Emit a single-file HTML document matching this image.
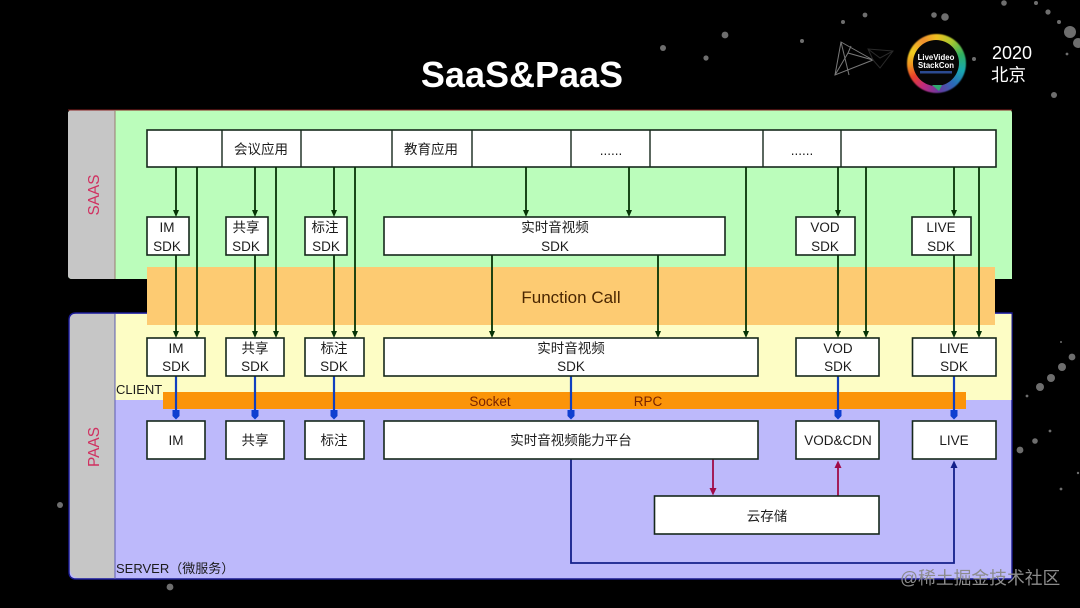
<!DOCTYPE html>
<html lang="zh">
<head>
<meta charset="utf-8">
<title>SaaS&amp;PaaS</title>
<style>
html,body{margin:0;padding:0;background:#000;width:1080px;height:608px;overflow:hidden}
#ring{position:absolute;left:906.500px;top:33.500px;width:59px;height:59px;border-radius:50%;filter:blur(.4px);
background:conic-gradient(from 0deg,#f0c020 0deg,#a8c830 35deg,#30b060 70deg,#18a8b0 105deg,#2a6ab8 140deg,#6a3aa0 175deg,#c02a80 210deg,#e8402a 240deg,#f09020 265deg,#f0d020 295deg,#f09030 330deg,#f0c020 360deg)}
#ringin{position:absolute;left:913px;top:40px;width:46px;height:46px;border-radius:50%;background:#060606}
svg{position:absolute;left:0;top:0;filter:blur(.35px)}
text{font-family:"Liberation Sans","Noto Sans CJK SC",sans-serif}
.l{font-size:13.5px;fill:#1c1c1c;text-anchor:middle}
.b{fill:#fff;stroke:#16281c;stroke-width:1.6}
.g{stroke:#063406;stroke-width:1.8;fill:none}
.gh{fill:#063406}
.u{stroke:#1040c0;stroke-width:2.2;fill:none}
.uh{fill:#0f3fd0}
.n{stroke:#14208a;stroke-width:1.8;fill:none}
.r{stroke:#a00a48;stroke-width:1.8;fill:none}
.s circle{fill:#6e6e6e}
</style>
</head>
<body>
<div id="ring"></div>
<div id="ringin"></div>
<svg width="1080" height="608" viewBox="0 0 1080 608">
<g class="s">
<circle cx="663" cy="48" r="3"/><circle cx="706" cy="58" r="2.600"/><circle cx="725" cy="35" r="3.400"/><circle cx="802" cy="41" r="2"/>
<circle cx="865" cy="15" r="2.400"/><circle cx="934" cy="15" r="2.800"/><circle cx="945" cy="17" r="3.800"/><circle cx="843" cy="22" r="2"/>
<circle cx="1004" cy="3" r="2.800"/><circle cx="1036" cy="3" r="2"/><circle cx="1048" cy="12" r="2.600"/><circle cx="1059" cy="22" r="2"/>
<circle cx="1070" cy="32" r="6"/><circle cx="1078" cy="43" r="5"/><circle cx="974" cy="59" r="2"/><circle cx="1054" cy="95" r="3"/><circle cx="1067" cy="54" r="1.400"/>
<circle cx="1072" cy="357" r="3.400"/><circle cx="1062" cy="367" r="4"/><circle cx="1051" cy="378" r="4"/><circle cx="1040" cy="387" r="4"/>
<circle cx="1027" cy="396" r="1.400"/><circle cx="1050" cy="431" r="1.400"/><circle cx="1035" cy="441" r="2.800"/><circle cx="1020" cy="450" r="3.400"/><circle cx="1061" cy="489" r="1.400"/>
<circle cx="60" cy="505" r="3"/><circle cx="170" cy="587" r="3.400"/><circle cx="1078" cy="473" r="1.200"/><circle cx="1061" cy="342" r="1"/>
</g>

<text x="522" y="87" font-size="36" font-weight="700" fill="#fff" text-anchor="middle">SaaS&amp;PaaS</text>

<g fill="none" stroke="#7a7a7a" stroke-width="1">
<polygon points="841,42 873,60 835,75"/><polyline points="841,42 849,75"/><polyline points="851,46 848,53 873,60"/><polyline points="848,53 835,75"/>
</g>
<g fill="none" stroke="#2a2a2a" stroke-width="1"><polygon points="868,49 893,51 880,68 873,60"/><polyline points="868,49 880,58 893,51"/></g>
<path d="M932 85 L942 85 L939 91 Z" fill="#30a870"/>
<text x="936" y="60" font-size="7.800" font-weight="700" fill="#fff" text-anchor="middle">LiveVideo</text>
<text x="936" y="68" font-size="7.800" font-weight="700" fill="#fff" text-anchor="middle">StackCon</text>
<rect x="920" y="71" width="32" height="2.500" fill="#2c4a90"/>
<text x="992" y="59" font-size="18" fill="#fff">2020</text>
<text x="991" y="81" font-size="17.500" fill="#fff">北京</text>

<!-- SaaS -->
<path d="M72 110 H1009 Q1012 110 1012 113 V279 H72 Q68 279 68 275 V114 Q68 110 72 110Z" fill="#bbfdbb"/>
<path d="M72 110 H115 V279 H72 Q68 279 68 275 V114 Q68 110 72 110Z" fill="#c6c6c6"/>
<path d="M68 110 H1012" stroke="#8a2020" stroke-width="1" fill="none"/>
<path d="M115 110 V279" stroke="#9a7a70" stroke-width="1"/>
<text transform="translate(99,195) rotate(-90)" font-size="15.400" fill="#d03060" text-anchor="middle">SAAS</text>

<!-- PaaS -->
<path d="M76 313 H1012 V579 H76 Q69 579 69 572 V320 Q69 313 76 313Z" fill="#bdb9fb" stroke="#1a1a90" stroke-width="1.400"/>
<path d="M115 314 H1011.500 V400 H115Z" fill="#fdfdc5"/>
<path d="M76 314 H115 V578 H80 Q70 578 70 568 V320 Q70 314 76 314Z" fill="#c6c6c6"/>
<path d="M115 314 V579" stroke="#5a5ab0" stroke-width="1"/>
<text transform="translate(99,447) rotate(-90)" font-size="15.400" fill="#d03060" text-anchor="middle">PAAS</text>

<rect x="147" y="267" width="848" height="58" fill="#fdcb72"/>
<rect x="163" y="392" width="803" height="17" fill="#fb9409"/>
<text x="571" y="303" font-size="17" fill="#4a2600" text-anchor="middle">Function Call</text>
<text x="490" y="406" font-size="13.500" fill="#7a2400" text-anchor="middle">Socket</text>
<text x="648" y="406" font-size="13.500" fill="#7a2400" text-anchor="middle">RPC</text>
<text x="116" y="394" font-size="13" fill="#1c1c1c">CLIENT</text>
<text x="116" y="573" font-size="13" fill="#1c1c1c">SERVER（微服务）</text>

<!-- top row -->
<rect class="b" x="147" y="130" width="849" height="37"/>
<path d="M222 130V167M301 130V167M392 130V167M472 130V167M571 130V167M650 130V167M763 130V167M841 130V167" stroke="#16281c" stroke-width="1.400"/>
<text class="l" x="261" y="154">会议应用</text>
<text class="l" x="431" y="154">教育应用</text>
<text class="l" x="611" y="155" font-size="12">......</text>
<text class="l" x="802" y="155" font-size="12">......</text>

<!-- green connectors -->
<path class="g" d="M176 167V212M255 167V212M334 167V212M526 167V212M629 167V212M838 167V212M954 167V212"/>
<path class="g" d="M197 167V333M276 167V333M355 167V333M746 167V333M866 167V333M979 167V333"/>
<path class="g" d="M176 255V333M255 255V333M334 255V333M492 255V333M658 255V333M838 255V333M954 255V333"/>
<g class="gh">
<path d="M173 210h6l-3 7zM252 210h6l-3 7zM331 210h6l-3 7zM523 210h6l-3 7zM626 210h6l-3 7zM835 210h6l-3 7zM951 210h6l-3 7z"/>
<path d="M173 331h6l-3 7zM194 331h6l-3 7zM252 331h6l-3 7zM273 331h6l-3 7zM331 331h6l-3 7zM352 331h6l-3 7zM489 331h6l-3 7zM655 331h6l-3 7zM743 331h6l-3 7zM835 331h6l-3 7zM863 331h6l-3 7zM951 331h6l-3 7zM976 331h6l-3 7z"/>
</g>

<!-- blue connectors -->
<path class="u" d="M176 376V414M255 376V414M334 376V414M571 376V414M838 376V414M954 376V414"/>
<path class="uh" d="M172.500 410h7v6l-3.500 3.500l-3.500-3.500zM251.500 410h7v6l-3.500 3.500l-3.500-3.500zM330.500 410h7v6l-3.500 3.500l-3.500-3.500zM567.500 410h7v6l-3.500 3.500l-3.500-3.500zM834.500 410h7v6l-3.500 3.500l-3.500-3.500zM950.500 410h7v6l-3.500 3.500l-3.500-3.500z"/>

<!-- row 1 -->
<rect class="b" x="147" y="217" width="42" height="38"/>
<rect class="b" x="226" y="217" width="42" height="38"/>
<rect class="b" x="305" y="217" width="42" height="38"/>
<rect class="b" x="384" y="217" width="341" height="38"/>
<rect class="b" x="796" y="217" width="59" height="38"/>
<rect class="b" x="912" y="217" width="59" height="38"/>
<text class="l" x="167" y="232">IM</text><text class="l" x="167" y="251">SDK</text>
<text class="l" x="246" y="232">共享</text><text class="l" x="246" y="251">SDK</text>
<text class="l" x="325" y="232">标注</text><text class="l" x="326" y="251">SDK</text>
<text class="l" x="555" y="232">实时音视频</text><text class="l" x="555" y="251">SDK</text>
<text class="l" x="825" y="232">VOD</text><text class="l" x="825" y="251">SDK</text>
<text class="l" x="941" y="232">LIVE</text><text class="l" x="941" y="251">SDK</text>

<!-- row 2 -->
<rect class="b" x="147" y="338" width="58" height="38"/>
<rect class="b" x="226" y="338" width="58" height="38"/>
<rect class="b" x="305" y="338" width="59" height="38"/>
<rect class="b" x="384" y="338" width="374" height="38"/>
<rect class="b" x="796" y="338" width="83" height="38"/>
<rect class="b" x="912.500" y="338" width="83.500" height="38"/>
<text class="l" x="176" y="353">IM</text><text class="l" x="176" y="371">SDK</text>
<text class="l" x="255" y="353">共享</text><text class="l" x="255" y="371">SDK</text>
<text class="l" x="334" y="353">标注</text><text class="l" x="334" y="371">SDK</text>
<text class="l" x="571" y="353">实时音视频</text><text class="l" x="571" y="371">SDK</text>
<text class="l" x="838" y="353">VOD</text><text class="l" x="838" y="371">SDK</text>
<text class="l" x="954" y="353">LIVE</text><text class="l" x="954" y="371">SDK</text>

<!-- lower connectors -->
<path class="n" d="M571 459V563H954V466"/>
<path d="M950.500 468h7l-3.500-7.500z" fill="#14208a"/>
<path class="r" d="M713 459V490"/>
<path d="M709.500 488h7l-3.500 7.500z" fill="#a00a48"/>
<path class="r" d="M838 496V466"/>
<path d="M834.500 468h7l-3.500-7.500z" fill="#a00a48"/>

<!-- row 3 -->
<rect class="b" x="147" y="421" width="58" height="38"/>
<rect class="b" x="226" y="421" width="58" height="38"/>
<rect class="b" x="305" y="421" width="59" height="38"/>
<rect class="b" x="384" y="421" width="374" height="38"/>
<rect class="b" x="796" y="421" width="83" height="38"/>
<rect class="b" x="912.500" y="421" width="83.500" height="38"/>
<rect class="b" x="654.500" y="496" width="224.500" height="38"/>
<text class="l" x="176" y="445">IM</text>
<text class="l" x="255" y="445">共享</text>
<text class="l" x="334" y="445">标注</text>
<text class="l" x="571" y="445">实时音视频能力平台</text>
<text class="l" x="838" y="445">VOD&amp;CDN</text>
<text class="l" x="954" y="445">LIVE</text>
<text class="l" x="767" y="521">云存储</text>

<text x="900" y="584" font-size="17.800" fill="#8c8c8c">@稀土掘金技术社区</text>
</svg>
</body>
</html>
